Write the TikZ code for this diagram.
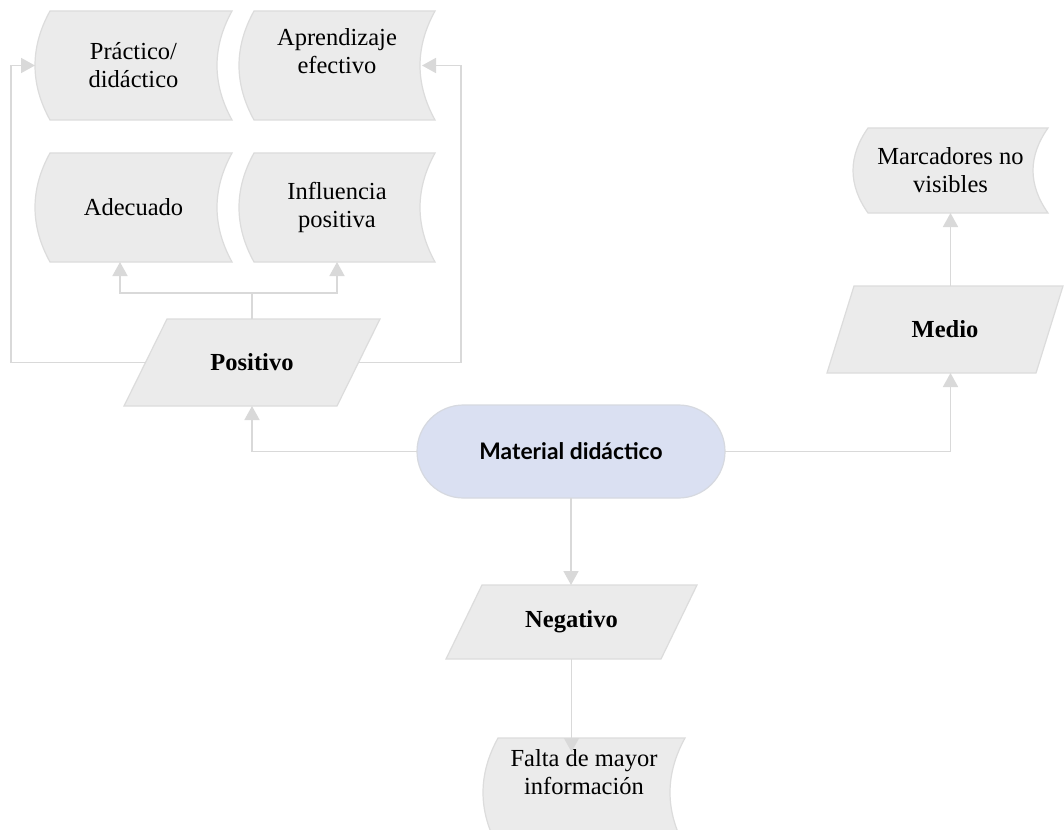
\documentclass[tikz,border=0pt]{standalone}
\usepackage{fontspec}
\setmainfont{Liberation Serif}
\newfontfamily\matfont{Lato}
\usetikzlibrary{arrows.meta,calc}

\definecolor{boxfill}{HTML}{EBEBEB}
\definecolor{boxline}{HTML}{DCDCDC}
\definecolor{matfill}{HTML}{DAE0F2}
\definecolor{matline}{HTML}{D6D9E0}
\definecolor{wire}{HTML}{D9D9D9}

% Shapes: "stored data" (both sides bowed left) and a leaning parallelogram
\makeatletter
\newdimen\sdxl \newdimen\sdxr \newdimen\sdyt \newdimen\sdyb
\newdimen\sdk \newdimen\sdtop \newdimen\sdbot
\newdimen\sdlc \newdimen\sdlx \newdimen\sdrc \newdimen\sdlean
\def\sdbow{15pt}
\def\leanamt{40pt}

\pgfdeclareshape{storedata}{
  \inheritsavedanchors[from=rectangle]
  \inheritanchorborder[from=rectangle]
  \inheritanchor[from=rectangle]{center}
  \inheritanchor[from=rectangle]{north}
  \inheritanchor[from=rectangle]{south}
  \inheritanchor[from=rectangle]{east}
  \inheritanchor[from=rectangle]{west}
  \inheritanchor[from=rectangle]{north east}
  \inheritanchor[from=rectangle]{north west}
  \inheritanchor[from=rectangle]{south east}
  \inheritanchor[from=rectangle]{south west}
  \inheritanchor[from=rectangle]{text}
  \inheritanchor[from=rectangle]{base}
  \inheritanchor[from=rectangle]{mid}
  \backgroundpath{
    \southwest \sdxl=\pgf@x \sdyb=\pgf@y
    \northeast \sdxr=\pgf@x \sdyt=\pgf@y
    \sdk=\sdyt \advance\sdk by -\sdyb \divide\sdk by 3
    \sdtop=\sdyt \advance\sdtop by -\sdk
    \sdbot=\sdyb \advance\sdbot by \sdk
    \sdlx=\sdxl \advance\sdlx by \sdbow
    \sdlc=\sdlx \advance\sdlc by -1.333\dimexpr\sdbow\relax
    \sdrc=\sdxr \advance\sdrc by -1.333\dimexpr\sdbow\relax
    \pgfpathmoveto{\pgfqpoint{\sdlx}{\sdyt}}
    \pgfpathlineto{\pgfqpoint{\sdxr}{\sdyt}}
    \pgfpathcurveto{\pgfqpoint{\sdrc}{\sdtop}}{\pgfqpoint{\sdrc}{\sdbot}}{\pgfqpoint{\sdxr}{\sdyb}}
    \pgfpathlineto{\pgfqpoint{\sdlx}{\sdyb}}
    \pgfpathcurveto{\pgfqpoint{\sdlc}{\sdbot}}{\pgfqpoint{\sdlc}{\sdtop}}{\pgfqpoint{\sdlx}{\sdyt}}
    \pgfpathclose
  }
}

\pgfdeclareshape{leanbox}{
  \inheritsavedanchors[from=rectangle]
  \inheritanchorborder[from=rectangle]
  \inheritanchor[from=rectangle]{center}
  \inheritanchor[from=rectangle]{north}
  \inheritanchor[from=rectangle]{south}
  \inheritanchor[from=rectangle]{east}
  \inheritanchor[from=rectangle]{west}
  \inheritanchor[from=rectangle]{north east}
  \inheritanchor[from=rectangle]{north west}
  \inheritanchor[from=rectangle]{south east}
  \inheritanchor[from=rectangle]{south west}
  \inheritanchor[from=rectangle]{text}
  \inheritanchor[from=rectangle]{base}
  \inheritanchor[from=rectangle]{mid}
  \backgroundpath{
    \southwest \sdxl=\pgf@x \sdyb=\pgf@y
    \northeast \sdxr=\pgf@x \sdyt=\pgf@y
    \sdlean=\leanamt\relax
    \sdlx=\sdxl \advance\sdlx by \sdlean
    \sdrc=\sdxr \advance\sdrc by -\sdlean
    \pgfpathmoveto{\pgfqpoint{\sdlx}{\sdyt}}
    \pgfpathlineto{\pgfqpoint{\sdxr}{\sdyt}}
    \pgfpathlineto{\pgfqpoint{\sdrc}{\sdyb}}
    \pgfpathlineto{\pgfqpoint{\sdxl}{\sdyb}}
    \pgfpathclose
  }
}
\makeatother

\tikzset{
  lean/.store in=\leanamt,
  basetext/.style={inner sep=0pt, outer sep=0pt, align=center,
    font=\fontsize{24.5}{28}\selectfont},
  storebox/.style={basetext, shape=storedata, fill=boxfill, draw=boxline,
    line width=1.2pt, minimum width=197, minimum height=109},
  slantbox/.style={basetext, shape=leanbox, fill=boxfill, draw=boxline,
    line width=1.2pt, minimum height=87,
    font=\fontsize{24.5}{28}\selectfont\bfseries},
  hub/.style={inner sep=0pt, outer sep=0pt, rectangle, rounded corners=46.5,
    fill=matfill, draw=matline, line width=1.2pt,
    minimum width=308, minimum height=93,
    font=\matfont\bfseries\fontsize{22.8}{26}\selectfont},
  conn/.style={draw=wire, line width=1.6pt,
    -{Triangle[length=14pt,width=15pt,fill=wire]}},
  wireonly/.style={draw=wire, line width=1.6pt}
}

\begin{document}
\begin{tikzpicture}[x=1pt, y=-1pt]
\clip (0,0) rectangle (1064,829);
\fill[white] (0,0) rectangle (1064,829);

% outcome boxes
\node[storebox] (prac) at (133.5,65.5) {Práctico/\\didáctico};
\node[storebox, minimum width=196, text depth=29pt] (apre) at (337,65.5) {Aprendizaje\\efectivo};
\node[storebox] (adec) at (133.5,207.5) {Adecuado};
\node[storebox, minimum width=196] (infl) at (337,207.5) {Influencia\\positiva};
\node[storebox, minimum width=195, minimum height=85] (marc) at (950.5,170.5) {Marcadores no\\visibles};
\node[storebox, minimum width=202, text depth=41pt] (falta) at (584,792.5) {Falta de mayor\\información};

% assessment boxes
\node[slantbox, minimum width=256, lean=43pt] (pos) at (252,362.5) {Positivo};
\node[slantbox, minimum width=236, lean=27pt] (med) at (945,329.5) {Medio};
\node[slantbox, minimum width=251, minimum height=74, lean=36pt] (neg) at (571.5,622) {Negativo};

% central topic
\node[hub] (mat) at (571,451.5) {Material didáctico};

% connectors
\draw[conn] (mat.west) -| (pos.south);
\draw[conn] (mat.east) -| (marc.south |- med.south);
\draw[conn] (marc.south |- med.north) -- (marc.south);
\draw[conn] (mat.south) -- (mat.south |- neg.north);
\draw[conn] (neg.south) -- ($(neg.south |- falta.north)+(0,14)$);

\coordinate (fork) at ($(pos.north)+(0,-26)$);
\draw[wireonly] (pos.north) -- (fork);
\draw[conn] (fork) -| ($(adec.south)+(-13.5,0)$);
\draw[conn] (fork) -| (infl.south);

\draw[conn] ($(pos.west)+(21.5,0)$) -| ($(prac.west)+(-24,0)$) -- (prac.west);
\draw[conn] ($(pos.east)+(-21.5,0)$) -| ($(apre.east)+(26,0)$) -- ($(apre.east)+(-13,0)$);
\end{tikzpicture}
\end{document}
